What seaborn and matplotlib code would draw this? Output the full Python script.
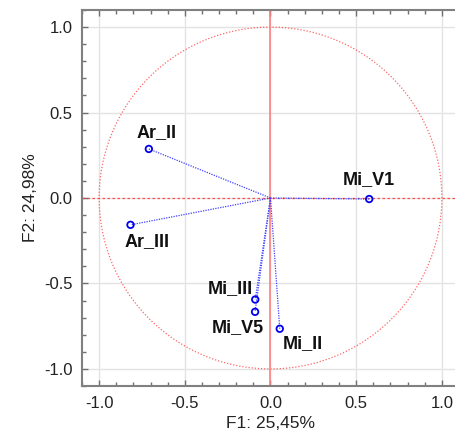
import numpy as np
import matplotlib
matplotlib.use("Agg")
import matplotlib.pyplot as plt
import seaborn as sns
import pandas as pd
from matplotlib.ticker import MultipleLocator

labels = ["Ar_II", "Ar_III", "Mi_V1", "Mi_III", "Mi_V5", "Mi_II"]
f1 = [-0.71, -0.817, 0.576, -0.089, -0.090, 0.054]
f2 = [0.287, -0.157, -0.006, -0.594, -0.666, -0.765]
# label offsets in pixels (dx, dy)
offsets = [(8, 16), (17, -17), (0, 19), (-25, 11), (-17, -16), (23, -15)]

sns.set_style("white")
plt.rcParams['font.family'] = ['Liberation Sans', 'DejaVu Sans']
plt.rcParams['axes.unicode_minus'] = False

df = pd.DataFrame({"F1": f1, "F2": f2, "label": labels})

fig = plt.figure(figsize=(4.56, 4.43), dpi=100)
ax = fig.add_axes([82/456, 57/443, 377/456, 376/443])

ax.set_xlim(-1.1, 1.1)
ax.set_ylim(-1.1, 1.1)
ax.xaxis.set_major_locator(MultipleLocator(0.5))
ax.yaxis.set_major_locator(MultipleLocator(0.5))
ax.xaxis.set_minor_locator(MultipleLocator(0.1))
ax.yaxis.set_minor_locator(MultipleLocator(0.1))
ax.grid(True, which='major', color='#e3e3e3', lw=1)
ax.set_axisbelow(True)
ax.tick_params(which='both', direction='in', bottom=True, left=True, top=True, right=False,
               length=3, color='#707070', width=1.0,
               labelsize=12, labelcolor='#222222', pad=7)
ax.tick_params(which='major', length=4)
for s in ax.spines.values():
    s.set_color('#808080')
    s.set_linewidth(1.5)
ax.spines['right'].set_visible(False)

# unit circle
t = np.linspace(0, 2*np.pi, 400)
ax.plot(np.cos(t), np.sin(t), color='#ff4040', lw=0.9, ls=(0, (1, 1.5)), alpha=0.8)
# axes through origin
ax.axvline(0, color='#ff8080', lw=1.2)
ax.axhline(0, color='#ff4040', lw=0.9, ls=(0, (2, 2)), alpha=0.9)

# vectors from origin
for x, y in zip(f1, f2):
    ax.plot([0, x], [0, y], color='#4040ff', lw=0.9, ls=(0, (1, 1)))

sns.scatterplot(data=df, x="F1", y="F2", ax=ax, s=22, marker='o',
                facecolor='none', edgecolor='#0000ee', linewidth=1.3, zorder=5)

for (x, y, lab), (dx, dy) in zip(zip(f1, f2, labels), offsets):
    ax.annotate(lab, (x, y), xytext=(dx, dy), textcoords='offset pixels',
                ha='center', va='center', fontsize=13, fontweight='bold', color='#111111')

ax.set_xlabel("F1: 25,45%", fontsize=12.5, color='#222222', labelpad=4)
ax.set_ylabel("F2: 24,98%", fontsize=12.5, color='#222222', labelpad=4)

fig.savefig("out.png", dpi=100)
